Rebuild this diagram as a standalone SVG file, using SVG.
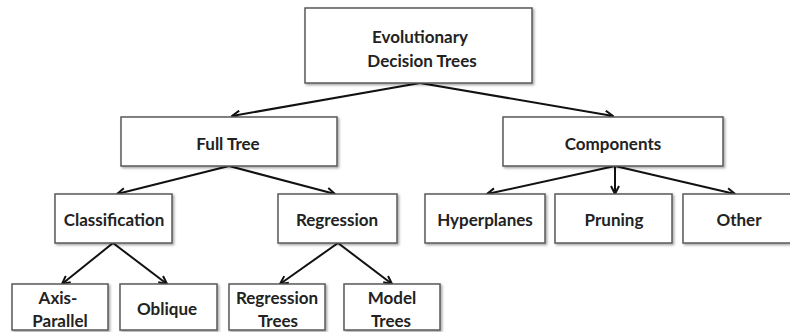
<svg xmlns="http://www.w3.org/2000/svg" width="790" height="332" viewBox="0 0 790 332">
<style>
.box{fill:#fff;stroke:#595959;stroke-width:1.5;filter:url(#sh)}
.t{font-family:Lato,"Liberation Sans",Arial,sans-serif;font-weight:bold;font-size:17px;fill:#222;text-anchor:middle}
.c{stroke:#111;stroke-width:2;fill:none;marker-end:url(#ah)}
</style>
<defs>
<filter id="sh" x="-10%" y="-10%" width="130%" height="140%">
<feDropShadow dx="1.5" dy="1.5" stdDeviation="1" flood-color="#000" flood-opacity="0.35"/>
</filter>
<marker id="ah" viewBox="0 0 10 10" refX="9" refY="5" markerWidth="10" markerHeight="10" markerUnits="userSpaceOnUse" orient="auto">
<path d="M1,1 L9,5 L1,9" fill="none" stroke="#111" stroke-width="2"/>
</marker>
</defs>
<g id="connectors">
<path class="c" d="M420,83 L232,116"/>
<path class="c" d="M420,83 L613,116"/>
<path class="c" d="M229,166 L117,194"/>
<path class="c" d="M229,166 L335,194"/>
<path class="c" d="M615,166 L487,194"/>
<path class="c" d="M615,166 L615,194"/>
<path class="c" d="M615,166 L735,194"/>
<path class="c" d="M113,243 L62,284"/>
<path class="c" d="M113,243 L167,284"/>
<path class="c" d="M338,243 L280,284"/>
<path class="c" d="M338,243 L392,284"/>
</g>
<g id="root"><rect class="box" x="305" y="8" width="227" height="75"/><text class="t" x="420" y="43">Evolutionary</text><text class="t" x="422" y="67">Decision Trees</text></g>
<g id="fulltree"><rect class="box" x="121" y="117" width="216" height="49"/><text class="t" x="228" y="150">Full Tree</text></g>
<g id="components"><rect class="box" x="503" y="117" width="220" height="49"/><text class="t" x="613" y="150">Components</text></g>
<g id="classification"><rect class="box" x="55" y="194" width="117" height="49"/><text class="t" x="114" y="226">Classification</text></g>
<g id="regression"><rect class="box" x="278" y="194" width="119" height="49"/><text class="t" x="337" y="226">Regression</text></g>
<g id="hyperplanes"><rect class="box" x="425" y="194" width="120" height="49"/><text class="t" x="485" y="226">Hyperplanes</text></g>
<g id="pruning"><rect class="box" x="555" y="194" width="117" height="49"/><text class="t" x="614" y="226">Pruning</text></g>
<g id="other"><rect class="box" x="683" y="194" width="112" height="49"/><text class="t" x="739" y="226">Other</text></g>
<g id="axisparallel"><rect class="box" x="12" y="284" width="96" height="46"/><text class="t" x="58" y="304">Axis-</text><text class="t" x="60" y="327">Parallel</text></g>
<g id="oblique"><rect class="box" x="120" y="284" width="97" height="46"/><text class="t" x="167" y="315">Oblique</text></g>
<g id="regressiontrees"><rect class="box" x="229" y="284" width="96" height="46"/><text class="t" x="277" y="304">Regression</text><text class="t" x="278" y="327">Trees</text></g>
<g id="modeltrees"><rect class="box" x="344" y="284" width="96" height="46"/><text class="t" x="392" y="304">Model</text><text class="t" x="391" y="327">Trees</text></g>
</svg>
